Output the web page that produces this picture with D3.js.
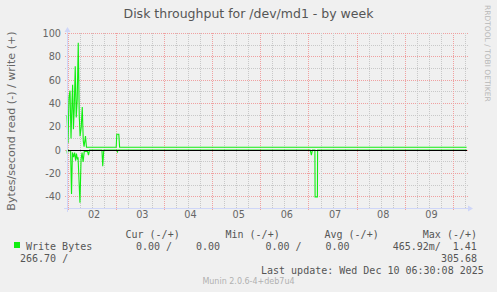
<!DOCTYPE html>
<html><head><meta charset="utf-8">
<script src="https://cdn.jsdelivr.net/npm/d3@7"></script>
<style>
html,body{margin:0;padding:0;background:#f0f0f0;}
svg{display:block;}
</style></head>
<body>
<script>
// ---- data (hours since Tue Dec 02 00:00) ----
const title = "Disk throughput for /dev/md1 - by week";
const yAxisLabel = "Bytes/second read (-) / write (+)";
const dayLabels = ["02","03","04","05","06","07","08","09"];
const yTicks = [-40,-20,0,20,40,60,80,100];
// write (+) series: [hour, value]
const writeHours  = [-0.5, 0.0, 0.5, 1.0, 1.5, 2.0, 2.3, 2.7, 3.1, 3.6, 4.1, 4.6, 5.1, 5.6, 6.0, 6.6, 7.1, 7.6, 8.0, 8.7, 9.2, 24.0, 24.3, 25.3, 25.7, 198.5];
const writeValues = [30,   6,   45,  51,  10,  42,  56,  18,  35,  72,  28,  44,  92,  30,  12,  20,  37,  8,   3,   12,  2.5, 2.5,  13.7, 13.7, 2.5,  2.5];
// read (-) series: [hour, value] (plotted negative)
const readHours  = [-0.5, -0.3, 0.1, 1.3, 1.75, 2.2, 2.8, 3.3, 3.8, 4.2, 4.7, 5.0, 5.95, 6.5, 7.0, 7.5, 8.1, 9.7, 10.2, 10.7, 16.9, 17.3, 17.8, 24.3, 24.6, 24.9, 120.6, 121.2, 121.7, 122.95, 123.05, 124.2, 124.3, 198.5];
const readValues = [0,    3,    0,   1,   37.6, 2,   6,   2,   9,   3,   8,   6,   45,   8,   2,   10,  1,   1,   4.3,  0,    0,    13.7, 0,    0,    1.5,  0,    0,     4.3,   0,     0,      40,     40,    0,     0];
const legendHeaders = ["Cur (-/+)","Min (-/+)","Avg (-/+)","Max (-/+)"];
const seriesName = "Write Bytes";
const lastUpdate = "Last update: Wed Dec 10 06:30:08 2025";
const watermark = "Munin 2.0.6-4+deb7u4";

// ---- drawing ----
const W = 497, H = 292;
const green = "#11ee11";
const svg = d3.select("body").append("svg").attr("width", W).attr("height", H)
  .style("font-family", "'DejaVu Sans', sans-serif");
svg.append("rect").attr("width", W).attr("height", H).attr("fill", "#f0f0f0");

const x = d3.scaleLinear().domain([-0.5, 198.7]).range([67, 467]);
const y = d3.scaleLinear().domain([-50, 100]).range([208.5, 33.5]);
const px = v => Math.floor(v) + 0.5;

const grid = svg.append("g");
// horizontal grid
d3.range(-40, 101, 10).forEach(v => {
  const major = v % 20 === 0;
  grid.append("line").attr("x1", 65).attr("x2", 469)
    .attr("y1", px(y(v))).attr("y2", px(y(v)))
    .attr("stroke", major ? "#f0a0a0" : "#c8c8c8").attr("stroke-dasharray", "1,1");
});
// vertical grid
d3.range(0, 199, 6).forEach(h => {
  const major = h % 24 === 0;
  grid.append("line").attr("x1", px(x(h))).attr("x2", px(x(h)))
    .attr("y1", 33).attr("y2", major ? 211 : 209)
    .attr("stroke", major ? "#f0a0a0" : "#c8c8c8").attr("stroke-dasharray", "1,1");
});

// data lines
const writeData = writeHours.map((h, i) => [h, writeValues[i]]);
const readData = readHours.map((h, i) => [h, -readValues[i]]);
const line = d3.line().x(d => x(d[0])).y(d => y(d[1]));
svg.append("path").datum(readData).attr("d", line).attr("fill", "none")
  .attr("stroke", green).attr("stroke-width", 1.1);
svg.append("path").datum(writeData).attr("d", line).attr("fill", "none")
  .attr("stroke", green).attr("stroke-width", 1.1);

// zero line
svg.append("line").attr("x1", 67).attr("x2", 467)
  .attr("y1", px(y(0))).attr("y2", px(y(0))).attr("stroke", "#000");

// axes
const axisC = "#cfd6f8";
svg.append("line").attr("x1", 64).attr("x2", 470).attr("y1", 208.5).attr("y2", 208.5).attr("stroke", axisC);
svg.append("line").attr("x1", 67.5).attr("x2", 67.5).attr("y1", 212).attr("y2", 30).attr("stroke", axisC);
svg.append("path").attr("d", "M468,205.5 L473,208.5 L468,211.5 Z").attr("fill", axisC);
svg.append("path").attr("d", "M64.5,32 L67.5,27 L70.5,32 Z").attr("fill", axisC);

// y tick labels
svg.append("g").selectAll("text").data(yTicks).join("text")
  .attr("x", 61).attr("y", d => px(y(d)) + 3.5)
  .attr("text-anchor", "end").attr("font-size", "9.7px").attr("fill", "#666")
  .text(d => d);

// x tick labels
svg.append("g").selectAll("text").data(dayLabels).join("text")
  .attr("x", (d, i) => x(12 + 24 * i) + 2).attr("y", 218)
  .attr("text-anchor", "middle").attr("font-size", "9.7px").attr("fill", "#666")
  .text(d => d);

// title
svg.append("text").attr("x", 248.5).attr("y", 18).attr("text-anchor", "middle")
  .attr("font-size", "12.5px").attr("fill", "#555").text(title);

// y axis label
svg.append("text").attr("transform", "translate(14.5,121) rotate(-90)")
  .attr("text-anchor", "middle").attr("font-size", "11.1px").attr("fill", "#666").text(yAxisLabel);

// side text
svg.append("text").attr("transform", "translate(485,5) rotate(90)")
  .attr("font-size", "7.5px").attr("fill", "#b8b8b8").text("RRDTOOL / TOBI OETIKER");

// legend
const mono = "'DejaVu Sans Mono', monospace";
const lg = svg.append("g").style("font-family", mono).attr("font-size", "10px").attr("fill", "#555");
const hdrX = [125.5, 225.5, 324.5, 422.8];
legendHeaders.forEach((t, i) => lg.append("text").attr("x", hdrX[i]).attr("y", 237.5).text(t));
lg.append("rect").attr("x", 14).attr("y", 242).attr("width", 6).attr("height", 6).attr("fill", green);
lg.append("text").attr("x", 26).attr("y", 249.5).text(seriesName);
const row1 = [["0.00 /", 136], ["0.00", 196], ["0.00 /", 265.4], ["0.00", 325.4], ["465.92m/", 392.7], ["1.41", 452.7]];
row1.forEach(([t, xx]) => lg.append("text").attr("x", xx).attr("y", 249.5).text(t));
lg.append("text").attr("x", 20).attr("y", 261.5).text("266.70 /");
lg.append("text").attr("x", 441).attr("y", 261.5).text("305.68");
lg.append("text").attr("x", 261).attr("y", 273.5).text(lastUpdate);

svg.append("text").attr("x", 248.5).attr("y", 284).attr("text-anchor", "middle")
  .attr("font-size", "8px").attr("fill", "#b0b0b0").text(watermark);
</script>
</body></html>
